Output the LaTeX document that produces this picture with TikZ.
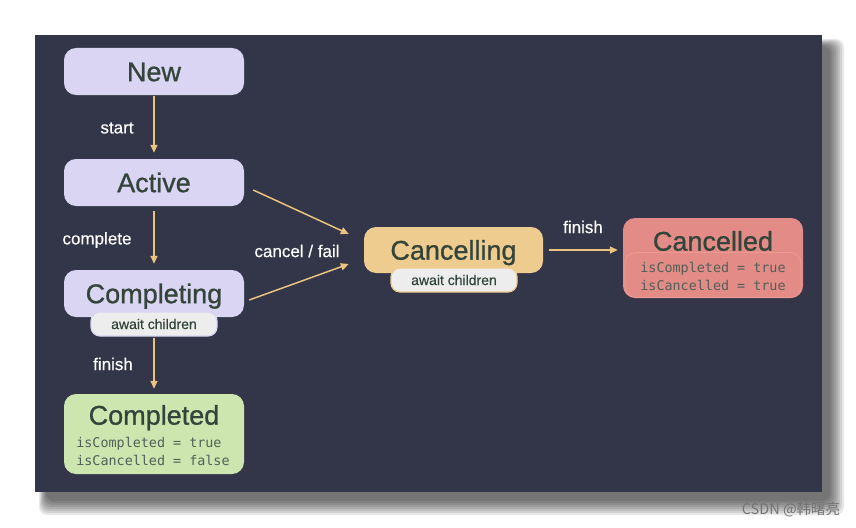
\documentclass[tikz,border=0pt]{standalone}
\usepackage{fontspec}
\setmainfont{Liberation Sans}
\setmonofont{DejaVu Sans Mono}
\newfontfamily\titlefont{Liberation Sans}[FakeBold=0.9]
\newfontfamily\labelfont{Liberation Sans}[FakeBold=0.4]
\newfontfamily\cjkfont{Noto Sans CJK SC}
\usetikzlibrary{positioning,arrows.meta}
\definecolor{panel}{HTML}{333548}
\definecolor{lavender}{HTML}{D9D5F2}
\definecolor{donegreen}{HTML}{CDE6B0}
\definecolor{cancelorange}{HTML}{EECB8E}
\definecolor{cancelred}{HTML}{E38B86}
\definecolor{cancelredline}{HTML}{EC9A94}
\definecolor{arrowtan}{HTML}{E9C37F}
\definecolor{ink}{HTML}{33443A}
\definecolor{pillgray}{HTML}{EDEDED}

\begin{document}
\begin{tikzpicture}[x=1pt,y=-1pt,>={Triangle[length=8pt,width=7pt]}]
\tikzset{
  state/.style={rounded corners=12pt,minimum width=180pt,minimum height=47pt,inner sep=0pt,
    text height=19.3pt,text depth=0pt,font=\titlefont\fontsize{27}{30}\selectfont,text=ink},
  title/.style={inner sep=0pt,text height=19.3pt,text depth=0pt,
    font=\titlefont\fontsize{27}{30}\selectfont,text=ink},
  pill/.style={rounded corners=9pt,fill=pillgray,line width=1.2pt,minimum width=126pt,
    minimum height=24pt,inner sep=0pt,text height=10pt,text depth=0pt,
    font=\labelfont\fontsize{14}{16}\selectfont,text=ink},
  flags/.style={align=left,inner sep=0pt,font=\ttfamily\fontsize{13.4}{18}\selectfont,text=ink!85},
  arr/.style={->,draw=arrowtan,fill=arrowtan,line width=1.5pt},
  lbl/.style={inner sep=0pt,text=white,font=\labelfont\fontsize{17}{20}\selectfont}
}
\useasboundingbox[fill=white] (0,0) rectangle (856,527);

% panel with its shadow
\foreach \s in {0,...,7}
  \fill[black,opacity=0.09,rounded corners=8pt] (46-\s,46-\s) rectangle (830+2*\s,501+2*\s);
\fill[panel] (35,35) rectangle (822,492);

% states
\node[state,fill=lavender] (new) at (154,71.5) {New};
\node[state,fill=lavender] (active) at (154,182.5) {Active};
\node[state,fill=lavender] (completing) at (154,293.5) {Completing};
\node[pill,draw=lavender] (completingwait) at (154,324) {await children};

\node[state,fill=donegreen,minimum height=80pt] (completed) at (154,434) {};
\node[title] (completedname) at (154,415) {Completed};
\node[flags] (completedflags) at (153,451) {isCompleted = true\\isCancelled = false};

\node[state,fill=cancelorange,minimum width=179pt,minimum height=46pt] (cancelling) at (453.5,250) {Cancelling};
\node[pill,draw=cancelorange] (cancellingwait) at (454,280) {await children};

\node[state,fill=cancelred,minimum height=80pt] (cancelled) at (713,258) {};
\node[state,draw=cancelredline,line width=0.8pt,minimum width=176pt,minimum height=45pt,
  rounded corners=11pt] (cancelledflagbox) at (713,275) {};
\node[title] (cancelledname) at (713,241) {Cancelled};
\node[flags] (cancelledflags) at (713,276) {isCompleted = true\\isCancelled = true};

% transitions
\draw[arr,shorten <=1pt,shorten >=6pt] (new) -- (active);
\draw[arr,shorten <=5pt,shorten >=6pt] (active) -- (completing);
\draw[arr,shorten <=1pt,shorten >=5pt] (completingwait) -- (completed);
\draw[arr] ([xshift=9pt,yshift=-7.5pt]active.east) -- ([xshift=-15pt,yshift=16pt]cancelling.west);
\draw[arr] ([xshift=5pt,yshift=-6.5pt]completing.east) -- ([xshift=-15pt,yshift=-14pt]cancelling.west);
\draw[arr,shorten <=6pt,shorten >=5pt] (cancelling.east) -- (cancelling.east -| cancelled.west);

% labels
\node[lbl] (startlbl) at (117,128) {start};
\node[lbl] (completelbl) at (97,240) {complete};
\node[lbl] (finishlbl) at (113,364) {finish};
\node[lbl] (cancellbl) at (297,251) {cancel / fail};
\node[lbl] (finishcancellbl) at (583,227) {finish};

% watermark
\node[inner sep=0pt,text=black!55,font=\cjkfont\fontsize{14.5}{16}\selectfont] (mark) at (791,510) {CSDN @韩曙亮};
\end{tikzpicture}
\end{document}
